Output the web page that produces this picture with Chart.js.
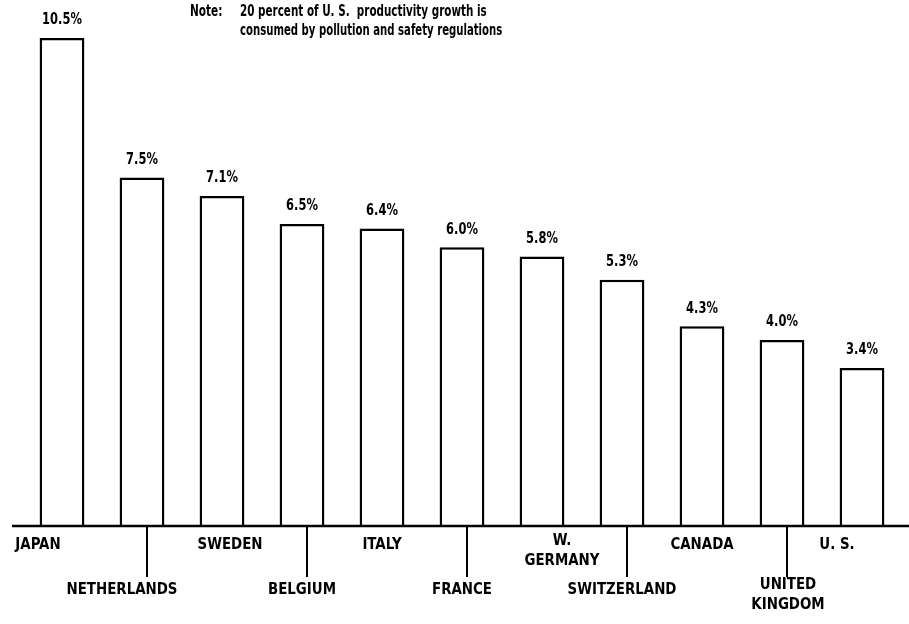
<!DOCTYPE html>
<html>
<head>
<meta charset="utf-8">
<script src="https://cdn.jsdelivr.net/npm/chart.js@4/dist/chart.umd.min.js"></script>
<style>
  html, body { margin: 0; padding: 0; background: #fff; }
  #wrap { width: 909px; height: 624px; }
</style>
</head>
<body>
<div id="wrap"><canvas id="chart" width="909" height="624"></canvas></div>
<script>
const countries = ['JAPAN', 'NETHERLANDS', 'SWEDEN', 'BELGIUM', 'ITALY', 'FRANCE', ['W.', 'GERMANY'], 'SWITZERLAND', 'CANADA', ['UNITED', 'KINGDOM'], 'U. S.'];
const growth = [10.5, 7.5, 7.1, 6.5, 6.4, 6.0, 5.8, 5.3, 4.3, 4.0, 3.4];
const labelRow = [0, 1, 0, 1, 0, 1, 0, 1, 0, 1, 0]; // 0 = under axis, 1 = lower row with leader line
const noteLines = ['20 percent of U. S.  productivity growth is', 'consumed by pollution and safety regulations'];

const FONT = '"Liberation Sans Narrow", "DejaVu Sans Condensed", "Liberation Sans", sans-serif';

// hand-lettered labels sit a bit off the bar centres
const labelShift = { 0: -24, 1: -20, 2: 8, 6: 20, 10: -25, 9: 6 };

// narrow lettering: squeeze text horizontally
function squeezed(ctx, t, x, y, k) {
  ctx.save();
  ctx.translate(x, y);
  ctx.scale(k, 1);
  ctx.fillText(t, 0, 0);
  ctx.restore();
}

const drawing = {
  id: 'drawing',
  afterDatasetsDraw(c) {
    const ctx = c.ctx;
    const x = c.scales.x, y = c.scales.y;
    const base = y.getPixelForValue(0);
    ctx.save();
    ctx.fillStyle = '#000';
    ctx.strokeStyle = '#000';

    // value labels above bars
    ctx.font = 'bold 15px ' + FONT;
    ctx.textAlign = 'center';
    ctx.textBaseline = 'bottom';
    c.getDatasetMeta(0).data.forEach((bar, i) => {
      squeezed(ctx, growth[i].toFixed(1) + '%', bar.x, bar.y - 10, 0.85);
    });

    // baseline
    ctx.lineWidth = 2.5;
    ctx.beginPath();
    ctx.moveTo(12, base);
    ctx.lineTo(c.width, base);
    ctx.stroke();

    // category labels and leader lines
    ctx.font = 'bold 16px ' + FONT;
    ctx.textBaseline = 'middle';
    countries.forEach((name, i) => {
      const cx = x.getPixelForValue(i);
      const lines = Array.isArray(name) ? name : [name];
      let ty;
      if (labelRow[i] === 1) {
        ctx.lineWidth = 2;
        ctx.beginPath();
        ctx.moveTo(cx + 5, base);
        ctx.lineTo(cx + 5, base + 51);
        ctx.stroke();
        ty = lines.length > 1 ? base + 59 : base + 64;
      } else {
        ty = lines.length > 1 ? base + 15 : base + 19;
      }
      lines.forEach((t, k) => squeezed(ctx, t, cx + (labelShift[i] || 0), ty + k * 20, 0.93));
    });

    // note
    ctx.font = 'bold 15px ' + FONT;
    ctx.textAlign = 'left';
    squeezed(ctx, 'Note:', 190, 12, 0.78);
    squeezed(ctx, noteLines[0], 240, 12, 0.77);
    squeezed(ctx, noteLines[1], 240, 31, 0.75);
    ctx.restore();
  }
};

new Chart(document.getElementById('chart'), {
  type: 'bar',
  data: {
    labels: countries,
    datasets: [{
      data: growth,
      backgroundColor: '#fff',
      borderColor: '#000',
      borderWidth: 2.5,
      borderSkipped: 'start',
      barPercentage: 0.56,
      categoryPercentage: 1
    }]
  },
  options: {
    responsive: false,
    animation: false,
    layout: { padding: { left: 22, right: 7, top: 38, bottom: 98 } },
    plugins: { legend: { display: false }, tooltip: { enabled: false } },
    scales: {
      x: { display: false, offset: true },
      y: { display: false, min: 0, max: 10.5 }
    }
  },
  plugins: [drawing]
});
</script>
</body>
</html>
